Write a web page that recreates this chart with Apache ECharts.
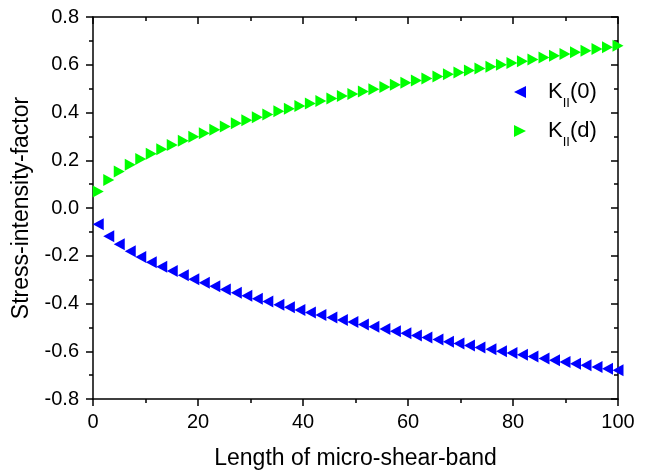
<!DOCTYPE html>
<html>
<head>
<meta charset="utf-8">
<script src="https://cdn.jsdelivr.net/npm/echarts@6/dist/echarts.min.js"></script>
<style>
  html, body { margin: 0; padding: 0; background: #fff; }
  #main { width: 648px; height: 475px; }
</style>
</head>
<body>
<div id="main"></div>
<script>
  // length of micro-shear-band
  var xLen = [1, 3, 5, 7.1, 9.1, 11.1, 13.1, 15.1, 17.2, 19.2,
    21.2, 23.2, 25.2, 27.3, 29.3, 31.3, 33.3, 35.4, 37.4, 39.4,
    41.4, 43.4, 45.5, 47.5, 49.5, 51.5, 53.5, 55.6, 57.6, 59.6,
    61.6, 63.6, 65.7, 67.7, 69.7, 71.7, 73.7, 75.8, 77.8, 79.8,
    81.8, 83.8, 85.9, 87.9, 89.9, 91.9, 93.9, 96, 98, 100]

  // K_II(0)
  var k0 = [-0.068, -0.118, -0.152, -0.181, -0.205, -0.227, -0.246, -0.264, -0.282, -0.298,
    -0.313, -0.328, -0.341, -0.355, -0.368, -0.380, -0.392, -0.405, -0.416, -0.427,
    -0.438, -0.448, -0.459, -0.469, -0.478, -0.488, -0.497, -0.507, -0.516, -0.525,
    -0.534, -0.542, -0.551, -0.560, -0.568, -0.576, -0.584, -0.592, -0.600, -0.607,
    -0.615, -0.622, -0.630, -0.638, -0.645, -0.652, -0.659, -0.666, -0.673, -0.680]

  // K_II(d)
  var kd = [0.069, 0.117, 0.153, 0.181, 0.205, 0.227, 0.246, 0.264, 0.282, 0.298,
    0.313, 0.328, 0.341, 0.355, 0.368, 0.380, 0.392, 0.405, 0.416, 0.427,
    0.438, 0.448, 0.459, 0.469, 0.478, 0.488, 0.497, 0.507, 0.516, 0.525,
    0.534, 0.542, 0.551, 0.560, 0.568, 0.576, 0.584, 0.592, 0.600, 0.607,
    0.615, 0.622, 0.630, 0.638, 0.645, 0.652, 0.659, 0.666, 0.673, 0.680]

  var seriesNames = ['K0', 'Kd']

  function pairs(xs, ys) {
    return xs.map(function (x, i) { return [x, ys[i]] })
  }

  var triLeft = 'path://M0,5 L10,0 L10,10 Z'
  var triRight = 'path://M10,5 L0,0 L0,10 Z'
  var font = 'Liberation Sans, Arial, sans-serif'
  var axisColor = '#000'

  var myChart = echarts.init(document.getElementById('main'))
  myChart.setOption({
    animation: false,
    backgroundColor: '#fff',
    grid: { left: 93, right: 30, top: 17, bottom: 75, containLabel: false },
    legend: {
      orient: 'vertical',
      left: 509,
      top: 76,
      itemWidth: 46,
      itemHeight: 12,
      itemGap: 10,
      data: seriesNames,
      formatter: function (name) {
        return name === 'K0' ? '{k|K}{s|II}{k|(0)}' : '{k|K}{s|II}{k|(d)}'
      },
      textStyle: {
        rich: {
          k: { fontSize: 22, fontFamily: font, color: '#000' },
          s: { fontSize: 13, fontFamily: font, color: '#000', verticalAlign: 'bottom', padding: [0, 0, -7, 0] }
        }
      }
    },
    xAxis: [{
      type: 'value',
      min: 0, max: 100, interval: 20,
      name: 'Length of micro-shear-band',
      nameLocation: 'middle',
      nameGap: 48,
      nameTextStyle: { fontSize: 23, fontFamily: font, color: '#000' },
      axisLine: { show: true, onZero: false, lineStyle: { color: axisColor, width: 1.5 } },
      axisTick: { show: true, inside: false, length: 7, lineStyle: { color: axisColor, width: 1.5 } },
      minorTick: { show: true, splitNumber: 2, length: 4, lineStyle: { color: axisColor, width: 1.5 } },
      axisLabel: { fontSize: 20, fontFamily: font, color: '#000', margin: 13 },
      splitLine: { show: false }
    }, {
      type: 'value', position: 'top',
      min: 0, max: 100, interval: 20,
      axisLine: { show: true, onZero: false, lineStyle: { color: axisColor, width: 1.5 } },
      axisTick: { show: true, inside: true, length: 7, lineStyle: { color: axisColor, width: 1.5 } },
      minorTick: { show: true, splitNumber: 2, length: 4, lineStyle: { color: axisColor, width: 1.5 } },
      axisLabel: { show: false },
      splitLine: { show: false }
    }],
    yAxis: [{
      type: 'value',
      min: -0.8, max: 0.8, interval: 0.2,
      name: 'Stress-intensity-factor',
      nameLocation: 'middle',
      nameGap: 60,
      nameTextStyle: { fontSize: 23, fontFamily: font, color: '#000' },
      axisLine: { show: true, onZero: false, lineStyle: { color: axisColor, width: 1.5 } },
      axisTick: { show: true, inside: false, length: 7, lineStyle: { color: axisColor, width: 1.5 } },
      minorTick: { show: true, splitNumber: 2, length: 4, lineStyle: { color: axisColor, width: 1.5 } },
      axisLabel: {
        fontSize: 20, fontFamily: font, color: '#000', margin: 14,
        formatter: function (v) { return v.toFixed(1) }
      },
      splitLine: { show: false }
    }, {
      type: 'value', position: 'right',
      min: -0.8, max: 0.8, interval: 0.2,
      axisLine: { show: true, onZero: false, lineStyle: { color: axisColor, width: 1.5 } },
      axisTick: { show: true, inside: true, length: 7, lineStyle: { color: axisColor, width: 1.5 } },
      minorTick: { show: true, splitNumber: 2, length: 4, lineStyle: { color: axisColor, width: 1.5 } },
      axisLabel: { show: false },
      splitLine: { show: false }
    }],
    series: [{
      name: 'K0',
      type: 'scatter',
      symbol: triLeft,
      symbolSize: [11, 12],
      itemStyle: { color: '#0000ff', opacity: 1 },
      data: pairs(xLen, k0)
    }, {
      name: 'Kd',
      type: 'scatter',
      symbol: triRight,
      symbolSize: [11, 12],
      itemStyle: { color: '#00ff00', opacity: 1 },
      data: pairs(xLen, kd)
    }]
  })
</script>
</body>
</html>
